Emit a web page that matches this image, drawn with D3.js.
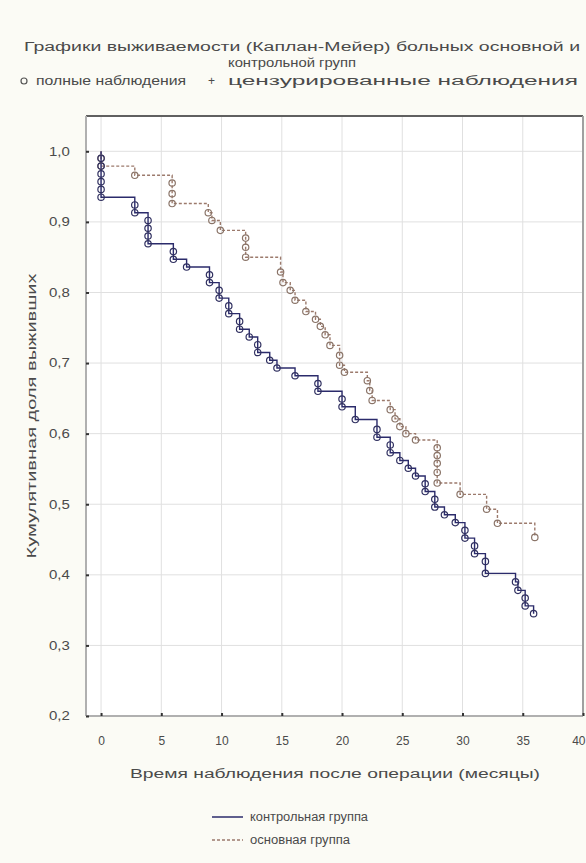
<!DOCTYPE html>
<html>
<head>
<meta charset="utf-8">
<script src="https://cdn.jsdelivr.net/npm/d3@7"></script>
<style>
  body { margin: 0; background: #fbfbf5; }
  text { font-family: "Liberation Sans", Arial, sans-serif; fill: #4a4a4a; }
</style>
</head>
<body>
<div id="chart"></div>
<script>
// Kaplan-Meier: event times (months) and survival after each event
const controlTimes = [0, 0, 0, 0, 0, 0, 2.8, 2.8, 3.9, 3.9, 3.9, 3.9, 6.0, 6.0, 7.1,
  9.0, 9.0, 9.8, 9.8, 10.6, 10.6, 11.5, 11.5, 12.3, 13.0, 13.0, 14.0, 14.6, 16.1,
  18.0, 18.0, 20.0, 20.0, 21.1, 22.9, 22.9, 24.0, 24.0, 24.8, 25.5, 26.1, 26.9, 26.9,
  27.7, 27.7, 28.5, 29.4, 30.2, 30.2, 31.0, 31.0, 31.9, 31.9, 34.4, 34.6, 35.2, 35.2,
  35.9];
const controlSurv = [0.99, 0.979, 0.968, 0.957, 0.946, 0.935, 0.924, 0.913, 0.902, 0.891,
  0.880, 0.869, 0.858, 0.847, 0.836, 0.825, 0.814, 0.803, 0.792, 0.781, 0.770, 0.759,
  0.748, 0.737, 0.726, 0.715, 0.704, 0.693, 0.682, 0.671, 0.660, 0.649, 0.638, 0.620,
  0.606, 0.595, 0.584, 0.573, 0.562, 0.551, 0.540, 0.529, 0.518, 0.507, 0.496, 0.485,
  0.474, 0.463, 0.452, 0.441, 0.430, 0.419, 0.402, 0.390, 0.378, 0.367, 0.356, 0.345];

const mainTimes = [0, 0, 2.8, 5.9, 5.9, 5.9, 8.9, 9.2, 9.9, 12.0, 12.0, 12.0, 14.9, 15.1,
  15.7, 16.1, 17.0, 17.8, 18.2, 18.6, 19.0, 19.8, 19.8, 20.2, 22.1, 22.3, 22.5, 24.0,
  24.4, 24.8, 25.3, 26.1, 27.9, 27.9, 27.9, 27.9, 27.9, 29.8, 32.0, 32.9, 36.0];
const mainSurv = [0.99, 0.979, 0.966, 0.955, 0.940, 0.926, 0.913, 0.902, 0.888, 0.877,
  0.864, 0.850, 0.829, 0.814, 0.803, 0.789, 0.773, 0.762, 0.752, 0.740, 0.725, 0.711,
  0.697, 0.687, 0.675, 0.661, 0.647, 0.634, 0.621, 0.610, 0.600, 0.591, 0.580, 0.569,
  0.558, 0.545, 0.530, 0.514, 0.493, 0.473, 0.453];

const xTicks = [0, 5, 10, 15, 20, 25, 30, 35, 40];
const yTicks = [0.2, 0.3, 0.4, 0.5, 0.6, 0.7, 0.8, 0.9, 1.0];

const titleLines = ["Графики выживаемости (Каплан-Мейер) больных основной и", "контрольной групп"];
const seriesNames = ["контрольная группа", "основная группа"];

const W = 586, H = 863;
const plot = { left: 86, right: 583, top: 116, bottom: 716 };
const ctrlColor = "#2b2b6b", mainColor = "#9c7a6c";

const svg = d3.select("#chart").append("svg")
  .attr("width", W).attr("height", H);

svg.append("rect").attr("width", W).attr("height", H).attr("fill", "#fbfbf5");

const x = d3.scaleLinear().domain([-1.25, 40]).range([plot.left, plot.right]);
const y = d3.scaleLinear().domain([0.2, 1.05]).range([plot.bottom, plot.top]);

// plot area
svg.append("rect")
  .attr("x", plot.left).attr("y", plot.top)
  .attr("width", plot.right - plot.left).attr("height", plot.bottom - plot.top)
  .attr("fill", "#ffffff");

// grid
const grid = svg.append("g");
grid.selectAll(".gx").data(xTicks).enter().append("line")
  .attr("x1", d => x(d)).attr("x2", d => x(d))
  .attr("y1", plot.top).attr("y2", plot.bottom)
  .attr("stroke", "#e0e0e0").attr("stroke-width", 1);
grid.selectAll(".gy").data(yTicks).enter().append("line")
  .attr("x1", plot.left).attr("x2", plot.right)
  .attr("y1", d => y(d)).attr("y2", d => y(d))
  .attr("stroke", "#e0e0e0").attr("stroke-width", 1);

// frame
svg.append("line").attr("x1", plot.left).attr("x2", plot.right)
  .attr("y1", plot.top).attr("y2", plot.top).attr("stroke", "#606060").attr("stroke-width", 2);
svg.append("line").attr("x1", plot.left).attr("x2", plot.left)
  .attr("y1", plot.top).attr("y2", plot.bottom).attr("stroke", "#b0b0b0").attr("stroke-width", 2);
svg.append("line").attr("x1", plot.right).attr("x2", plot.right)
  .attr("y1", plot.top).attr("y2", plot.bottom).attr("stroke", "#a0a0a0").attr("stroke-width", 2);
svg.append("line").attr("x1", plot.left).attr("x2", plot.right)
  .attr("y1", plot.bottom).attr("y2", plot.bottom).attr("stroke", "#b0b0b0").attr("stroke-width", 2);

// axes
const fmt = d => d3.format(".1f")(d).replace(".", ",");
const yAxis = svg.append("g")
  .attr("transform", `translate(${plot.left},0)`)
  .call(d3.axisLeft(y).tickValues(yTicks).tickSize(-3).tickPadding(18).tickFormat(fmt));
const xAxis = svg.append("g")
  .attr("transform", `translate(0,${plot.bottom})`)
  .call(d3.axisBottom(x).tickValues(xTicks).tickSize(-3).tickPadding(20));
[yAxis, xAxis].forEach(a => {
  a.select(".domain").remove();
  a.selectAll(".tick line").attr("stroke", "#333").attr("stroke-width", 2);
  a.selectAll(".tick text").attr("font-size", 12).attr("fill", "#4a4a4a")
    .attr("font-family", "Liberation Sans, Arial, sans-serif");
});
yAxis.selectAll(".tick text").attr("transform", "scale(1.25,1)")
  .attr("x", -13);
// last x label sits at the right edge; keep it inside the picture
xAxis.selectAll(".tick text").filter(d => d === 40)
  .attr("text-anchor", "end").attr("x", 2);

// series
const line = d3.line().x(d => x(d[0])).y(d => y(d[1])).curve(d3.curveStepAfter);
const ctrlPts = [[0, 1]].concat(controlTimes.map((t, i) => [t, controlSurv[i]]));
const mainPts = [[0, 1]].concat(mainTimes.map((t, i) => [t, mainSurv[i]]));

svg.append("path").attr("d", line(mainPts))
  .attr("fill", "none").attr("stroke", mainColor).attr("stroke-width", 1.4)
  .attr("stroke-dasharray", "3,2");
svg.append("path").attr("d", line(ctrlPts))
  .attr("fill", "none").attr("stroke", ctrlColor).attr("stroke-width", 1.4);

svg.append("g").selectAll("circle").data(mainPts.slice(1)).enter().append("circle")
  .attr("cx", d => x(d[0])).attr("cy", d => y(d[1])).attr("r", 3.2)
  .attr("fill", "none").attr("stroke", "#8a7468").attr("stroke-width", 1.2);
svg.append("g").selectAll("circle").data(ctrlPts.slice(1)).enter().append("circle")
  .attr("cx", d => x(d[0])).attr("cy", d => y(d[1])).attr("r", 3.2)
  .attr("fill", "none").attr("stroke", "#303060").attr("stroke-width", 1.2);

// title
svg.append("text").attr("x", 302).attr("y", 51).attr("text-anchor", "middle")
  .attr("font-size", 12).attr("textLength", 556).attr("lengthAdjust", "spacingAndGlyphs")
  .text(titleLines[0]);
svg.append("text").attr("x", 292).attr("y", 67).attr("text-anchor", "middle")
  .attr("font-size", 12).attr("textLength", 128).attr("lengthAdjust", "spacingAndGlyphs")
  .text(titleLines[1]);

// top legend
svg.append("circle").attr("cx", 24).attr("cy", 81).attr("r", 3)
  .attr("fill", "none").attr("stroke", "#555").attr("stroke-width", 1.2);
svg.append("text").attr("x", 36).attr("y", 85).attr("font-size", 12)
  .attr("textLength", 150).attr("lengthAdjust", "spacingAndGlyphs").text("полные наблюдения");
svg.append("text").attr("x", 208).attr("y", 85).attr("font-size", 12).text("+");
svg.append("text").attr("x", 228).attr("y", 85).attr("font-size", 12)
  .attr("textLength", 350).attr("lengthAdjust", "spacingAndGlyphs").text("цензурированные наблюдения");

// axis titles
svg.append("text").attr("transform", `translate(36,${(plot.top + plot.bottom) / 2}) rotate(-90)`)
  .attr("text-anchor", "middle").attr("font-size", 12)
  .attr("textLength", 285).attr("lengthAdjust", "spacingAndGlyphs")
  .text("Кумулятивная доля выживших");
svg.append("text").attr("x", 335).attr("y", 778).attr("text-anchor", "middle")
  .attr("font-size", 12).attr("textLength", 410).attr("lengthAdjust", "spacingAndGlyphs")
  .text("Время наблюдения после операции (месяцы)");

// bottom legend
const leg = svg.append("g");
seriesNames.forEach((name, i) => {
  const yy = 817 + i * 23;
  leg.append("line").attr("x1", 212).attr("x2", 243).attr("y1", yy).attr("y2", yy)
    .attr("stroke", i === 0 ? ctrlColor : mainColor).attr("stroke-width", 1.5)
    .attr("stroke-dasharray", i === 0 ? null : "3,2");
  leg.append("text").attr("x", 250).attr("y", yy + 4).attr("font-size", 12)
    .attr("textLength", i === 0 ? 118 : 100).attr("lengthAdjust", "spacingAndGlyphs")
    .text(name);
});
</script>
</body>
</html>
